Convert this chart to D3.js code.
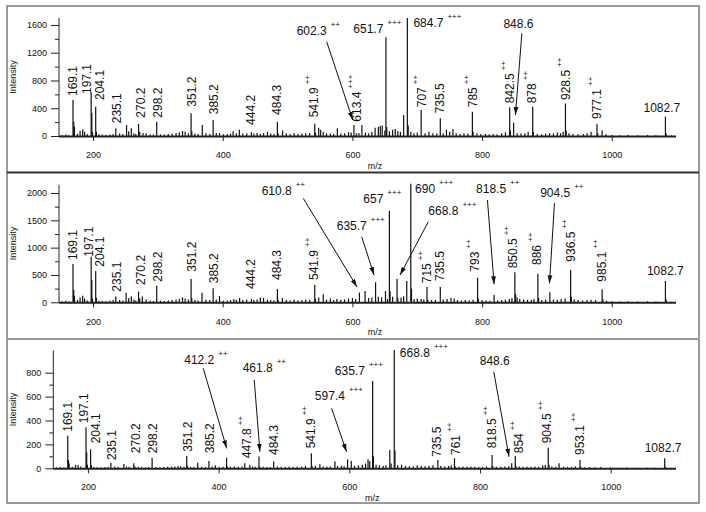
<!DOCTYPE html>
<html><head><meta charset="utf-8">
<script src="https://cdn.jsdelivr.net/npm/d3@7"></script>
<style>
body{margin:0;background:#fff}
svg{display:block}
text{font-family:"Liberation Sans",Arial,sans-serif;fill:#111}
</style>
</head><body>
<svg id="c" width="706" height="512"></svg>
<script>
// ---------------- DATA ----------------
// Peaks: [m/z, intensity]
const peaks1 = [[152,15],[158,20],[162,12],[169.1,519],[170.2,206],[171.3,134],[176,35],[180,75],[184,95],[187,60],[191,30],[197.1,624],[198.1,336],[199.2,60],[204.1,422],[205.2,60],[209,25],[214,20],[220,18],[226,22],[231,30],[235.1,111],[241,35],[246,30],[251.7,158],[255,70],[259,110],[263,40],[266,30],[270.2,173],[272,60],[277,45],[282,40],[288,25],[293,20],[298.2,206],[304,25],[310,20],[316,30],[322,35],[328,45],[333,50],[338,70],[342,60],[347,40],[351.2,327],[352.3,70],[357,35],[362,30],[368.5,158],[374,40],[380,30],[385.2,230],[390,45],[395,40],[401,25],[407,30],[412,35],[416,70],[421,40],[425.6,90],[431,35],[437,40],[444.2,55],[448,35],[453,45],[458,30],[463,40],[469,60],[474,35],[479,30],[484.3,206],[485.4,40],[492.4,80],[498,40],[504,30],[510,45],[516,30],[522,35],[528,40],[534,45],[541.9,175],[543,50],[548,120],[551,90],[555,60],[560,40],[566,35],[571,30],[576.8,110],[582,35],[588,40],[594,55],[598,50],[602.3,158],[606,40],[610,45],[614.6,158],[620,50],[625,40],[630,60],[635,120],[640,135],[643,145],[646,150],[650,80],[651.7,1422],[653,130],[657,70],[662,90],[666,100],[670,70],[674,60],[679,303],[684.7,1700],[686,150],[690,60],[695,40],[700,50],[706,375],[712,40],[718,60],[724,40],[730,35],[735.5,255],[740,40],[745,90],[750,60],[755,100],[760,40],[766,30],[772,40],[778,35],[785,350],[786.1,60],[792,40],[798,30],[805,30],[811,25],[817,30],[823,25],[830,40],[836,50],[842.5,413],[843.6,80],[848.6,192],[854,40],[860,35],[866,40],[871,60],[878,422],[879.1,60],[885,30],[892,25],[898,35],[904,40],[910,35],[916,50],[921,40],[925,60],[928.5,470],[929.6,80],[934,40],[940,30],[948,25],[956,30],[962,40],[968,60],[977.1,173],[978.2,40],[985,80],[991,25],[1000,15],[1012,12],[1025,15],[1040,12],[1055,15],[1068,12],[1082.7,278],[1083.8,40],[1092,10]];

const peaks2 = [[152,20],[158,30],[163,15],[169.1,701],[170.2,226],[171.3,122],[176,45],[180,90],[184,120],[187,70],[191,35],[197.1,835],[198.1,408],[199.2,70],[204.1,573],[205.2,80],[209,30],[214,25],[220,20],[226,30],[231,40],[235.1,104],[241,40],[246,35],[251,177],[255,80],[259,110],[263,50],[266,35],[270.2,195],[272,70],[276,104],[282,50],[288,30],[293,25],[298.2,305],[304,30],[310,25],[316,35],[322,40],[328,50],[333,60],[338,90],[342,70],[347,50],[351.2,427],[352.3,80],[357,40],[362,35],[368,177],[374,50],[380,40],[385.2,256],[390,50],[395,116],[401,30],[407,35],[412,40],[417,60],[421,45],[426,80],[431,40],[437,50],[444.2,60],[448,40],[453,50],[458,90],[463,80],[469,50],[474,40],[479,35],[484.3,244],[485.4,50],[492,80],[498,45],[504,35],[510,50],[516,35],[522,40],[528,50],[534,45],[541.9,317],[543,60],[548,90],[555,146],[560,50],[566,70],[571,40],[576,60],[582,45],[588,50],[594,70],[600,80],[605,60],[610.8,177],[619.5,207],[625,80],[630,90],[635.7,366],[640,100],[645,90],[651,207],[654,60],[657,1677],[658.1,200],[662,100],[668.8,427],[670,80],[675,90],[679,110],[683.8,390],[690,2170],[691.1,250],[695,60],[700,70],[706,60],[710,50],[715,280],[716.1,50],[722,40],[728,45],[735.5,280],[740,50],[746,60],[752,80],[757,70],[762,40],[768,35],[774,40],[780,35],[786,45],[793,451],[794.1,70],[800,40],[806,35],[812,30],[818.5,134],[824,35],[830,40],[836,50],[842,60],[846,80],[850.5,549],[851.6,150],[854,90],[858,60],[864,50],[870,45],[876,40],[880,60],[886,524],[887.1,80],[892,40],[898,50],[904.5,183],[910,50],[916,45],[922,60],[928,70],[936.5,591],[937.6,100],[942,50],[948,40],[955,35],[962,40],[968,45],[975,40],[985.1,238],[986.2,50],[992,30],[1000,20],[1012,15],[1025,20],[1040,15],[1055,20],[1068,15],[1082.7,390],[1083.8,50],[1092,12]];

const peaks3 = [[152,8],[158,10],[163,6],[169.1,273],[170.2,70],[171.3,40],[176,12],[181,28],[185,28],[189,15],[197.1,343],[198.1,134],[199.2,30],[204.1,159],[205.2,25],[209,10],[214,8],[220,8],[226,10],[231,12],[235.1,47],[241,12],[246,10],[255,36],[259,15],[263,12],[270.2,42],[272,15],[277,12],[282,10],[288,8],[293,10],[298.2,89],[304,10],[310,8],[316,10],[322,12],[328,14],[333,15],[338,20],[342,18],[347,12],[351.2,103],[352.3,20],[357,12],[362,10],[368,47],[374,12],[380,10],[385.2,61],[390,15],[395,25],[401,10],[407,12],[412.2,89],[413.3,15],[418,12],[424,15],[430,12],[436,15],[440,42],[447.8,30],[452,15],[456,12],[461.8,98],[462.9,15],[468,12],[474,10],[479,10],[484.3,56],[490,15],[496,12],[502,10],[508,12],[514,10],[520,12],[527,14],[533,20],[541.9,125],[543,20],[548,20],[555,33],[560,15],[566,14],[571,15],[578,56],[582,20],[588,20],[592,18],[597.4,75],[603,61],[608,20],[614,25],[620,30],[625,40],[628.7,75],[631.3,60],[635.7,730],[636.8,100],[641,30],[646,25],[652,20],[656,25],[662,153],[664,40],[668.8,990],[669.9,150],[674,25],[680,30],[686,20],[692,18],[698,15],[704,25],[710,20],[716,18],[722,20],[728,25],[735.5,70],[740,20],[746,15],[752,20],[756,25],[761,84],[762.1,15],[768,12],[774,15],[780,12],[786,15],[792,12],[798,10],[804,12],[810,15],[818.5,111],[819.6,20],[825,12],[832,14],[838,15],[844,18],[848.6,42],[854,103],[855.1,20],[860,15],[866,12],[872,14],[878,12],[884,15],[890,14],[896,25],[900,30],[904.5,173],[905.6,30],[910,15],[916,12],[921,42],[928,12],[934,10],[940,12],[946,15],[953.1,70],[954.2,12],[960,8],[968,10],[976,8],[985,10],[1000,6],[1012,5],[1025,6],[1040,5],[1055,6],[1068,5],[1082.7,84],[1083.8,12],[1092,4]];

// Rotated peak labels: [text, charge, m/z anchor, intensity at label base]
const vlabels1 = [["169.1","",168.8,576],["197.1","",190.9,605],["204.1","",210.5,519],["235.1","",236.3,183],["270.2","",273.3,264],["298.2","",298.9,264],["351.2","",352,422],["385.2","",385.3,313],["444.2","",443,159],["484.3","",483.2,303],["541.9","++",540.7,269],["613.4","+++",606.6,206],["707","++",706.9,414],["735.5","",734.1,327],["785","++",785.6,414],["842.5","++",842.1,471],["878","++",876.7,471],["928.5","++",928.1,519],["977.1","++",977,245]];
const vlabels2 = [["169.1","",168.8,774],["197.1","",194,834],["204.1","",210.5,651],["235.1","",237.2,194],["270.2","",273.3,317],["298.2","",298.9,377],["351.2","",352,560],["385.2","",385.3,348],["444.2","",443,243],["484.3","",483.2,408],["541.9","++",540.7,408],["715","++",714.7,348],["735.5","",735.2,390],["793","++",789.2,560],["850.5","++",847.4,622],["886","++",884.4,683],["936.5","++",935.8,743],["985.1","++",984.7,377]];
const vlabels3 = [["169.1","",168.5,306],["197.1","",193,377],["204.1","",212.4,209],["235.1","",236.4,69],["270.2","",273.6,126],["298.2","",299.1,126],["351.2","",352,139],["385.2","",385.7,126],["447.8","++",442.9,84],["484.3","",483.6,111],["541.9","++",540.8,167],["735.5","",734.4,97],["761","++",763,111],["818.5","++",817.6,167],["854","++",859.8,126],["904.5","++",901.7,209],["953.1","++",952.7,111]];

// Horizontal labels: [text, charge, m/z (left), intensity (baseline), arrow [m1,i1,m2,i2] or null]
const hlabels1 = [["602.3","++",514,1455,[560.3,1359,600.5,231]],["651.7","+++",601.4,1480,null],["684.7","+++",694,1575,null],["848.6","",832.9,1552,[861.3,1480,851.4,303]],["1082.7","",1048.9,350,null]];
const hlabels2 = [["610.8","++",460,1964,[524.2,1903,607.1,280]],["635.7","+++",575.8,1323,[614.3,1200,633.3,500]],["657","+++",616.8,1812,null],["690","+++",696.6,1995,null],["668.8","+++",717.1,1598,[717.1,1475,673.5,500]],["818.5","++",790.7,1995,[808.2,1872,818.5,329]],["904.5","++",889.5,1932,[911.6,1812,903.9,348]],["1082.7","",1054.2,500,null]];
const hlabels3 = [["412.2","++",347.4,870,[376.5,837,412.3,167]],["461.8","++",436.8,808,[454.5,739,463.2,139]],["597.4","+++",547.3,572,[572.9,502,595.8,139]],["635.7","+++",577.9,781,null],["668.8","+++",677.4,934,null],["848.6","",799.7,864,[821.1,808,844.5,97]],["1082.7","",1052.1,139,null]];

// Axis tick values
const xTicks = [200,400,600,800,1000];
const yTicks1 = [0,400,800,1200,1600], yMinor1 = [200,600,1000,1400];
const yTicks2 = [0,500,1000,1500,2000], yMinor2 = [250,750,1250,1750];
const yTicks3 = [0,200,400,600,800], yMinor3 = [100,300,500,700];
const xLabel = "m/z", yLabel = "Intensity";

// ---------------- LAYOUT ----------------
const panels = [
  {peaks:peaks1, v:vlabels1, h:hlabels1, yt:yTicks1, ym:yMinor1, xd:[147.5,1099], xr:[59,676], yd:[0,1700], yr:[136,18], xlabY:168.5, tickLabY:158},
  {peaks:peaks2, v:vlabels2, h:hlabels2, yt:yTicks2, ym:yMinor2, xd:[147.5,1099], xr:[59,676], yd:[0,2150], yr:[302.3,184.8], xlabY:334.5, tickLabY:325},
  {peaks:peaks3, v:vlabels3, h:hlabels3, yt:yTicks3, ym:yMinor3, xd:[147,1100], xr:[53.3,676], yd:[0,985], yr:[468.3,350.6], xlabY:501, tickLabY:490}
];

const svg = d3.select("#c");
const defs = svg.append("defs");
defs.append("marker").attr("id","ah").attr("markerUnits","userSpaceOnUse")
  .attr("markerWidth",9).attr("markerHeight",6).attr("refX",8).attr("refY",3)
  .attr("orient","auto")
  .append("path").attr("d","M0,0.6 L8,3 L0,5.4 Z").attr("fill","#111");

// frame
svg.append("rect").attr("x",7).attr("y",6).attr("width",692).attr("height",497)
  .attr("fill","none").attr("stroke","#9a9a9a").attr("stroke-width",2);
svg.append("line").attr("x1",7).attr("x2",699).attr("y1",172.5).attr("y2",172.5).attr("stroke","#333").attr("stroke-width",2);
svg.append("line").attr("x1",7).attr("x2",699).attr("y1",339).attr("y2",339).attr("stroke","#9a9a9a").attr("stroke-width",2);

panels.forEach(p => {
  const x = d3.scaleLinear().domain(p.xd).range(p.xr);
  const y = d3.scaleLinear().domain(p.yd).range(p.yr);
  const g = svg.append("g");

  // spectrum sticks
  g.append("g").selectAll("line").data(p.peaks).join("line")
    .attr("x1",d=>x(d[0])).attr("x2",d=>x(d[0]))
    .attr("y1",y(0)).attr("y2",d=>y(d[1]))
    .attr("stroke","#111").attr("stroke-width",1.2);

  // x axis
  const xa = g.append("g").attr("transform",`translate(0,${y(0)})`)
    .call(d3.axisBottom(x).tickValues(xTicks).tickSize(5).tickPadding(3).tickFormat(d3.format("d")));
  xa.select(".domain").remove();
  xa.selectAll("line").attr("stroke","#222");
  xa.selectAll("text").attr("font-size",9).attr("fill","#222").attr("dy",null)
    .attr("y", p.tickLabY - y(0));
  g.append("line").attr("x1",p.xr[0]).attr("x2",p.xr[1]).attr("y1",y(0)+0.5).attr("y2",y(0)+0.5)
    .attr("stroke","#222").attr("stroke-width",2);
  g.append("text").attr("x",(x(600)+x(750))/2 - 26).attr("y",p.xlabY).attr("font-size",9)
    .attr("text-anchor","middle").attr("fill","#222").text(xLabel);

  // y axis
  const ya = g.append("g").attr("transform",`translate(${p.xr[0]},0)`)
    .call(d3.axisLeft(y).tickValues(p.yt).tickSize(8).tickPadding(4).tickFormat(d3.format("d")));
  ya.select(".domain").remove();
  ya.selectAll("line").attr("stroke","#222");
  ya.selectAll("text").attr("font-size",9).attr("fill","#222");
  const ym = g.append("g").attr("transform",`translate(${p.xr[0]},0)`)
    .call(d3.axisLeft(y).tickValues(p.ym).tickSize(4).tickFormat(""));
  ym.select(".domain").remove();
  ym.selectAll("line").attr("stroke","#222");
  g.append("line").attr("x1",p.xr[0]).attr("x2",p.xr[0]).attr("y1",y(0)).attr("y2",y(p.yd[1]))
    .attr("stroke","#222").attr("stroke-width",1);
  g.append("text").attr("transform",`translate(16,${(y(0)+y(p.yd[1]))/2}) rotate(-90)`)
    .attr("text-anchor","middle").attr("font-size",9).attr("fill","#222").text(yLabel);

  // rotated labels
  p.v.forEach(l => {
    const t = g.append("text")
      .attr("transform",`translate(${x(l[2])},${y(l[3])}) rotate(-90)`)
      .attr("font-size",12).attr("dy","0.36em").text(l[0]);
    if (l[1]) t.append("tspan").attr("font-size",8).attr("dx",3).attr("dy",-8).text(l[1]);
  });

  // horizontal labels + arrows
  p.h.forEach(l => {
    const t = g.append("text").attr("x",x(l[2])).attr("y",y(l[3])).attr("font-size",12).text(l[0]);
    if (l[1]) t.append("tspan").attr("font-size",8).attr("dx",4).attr("dy",-8).text(l[1]);
    if (l[4]) {
      const a = l[4];
      g.append("line").attr("x1",x(a[0])).attr("y1",y(a[1])).attr("x2",x(a[2])).attr("y2",y(a[3]))
        .attr("stroke","#111").attr("stroke-width",1).attr("marker-end","url(#ah)");
    }
  });
});
</script>
</body></html>
